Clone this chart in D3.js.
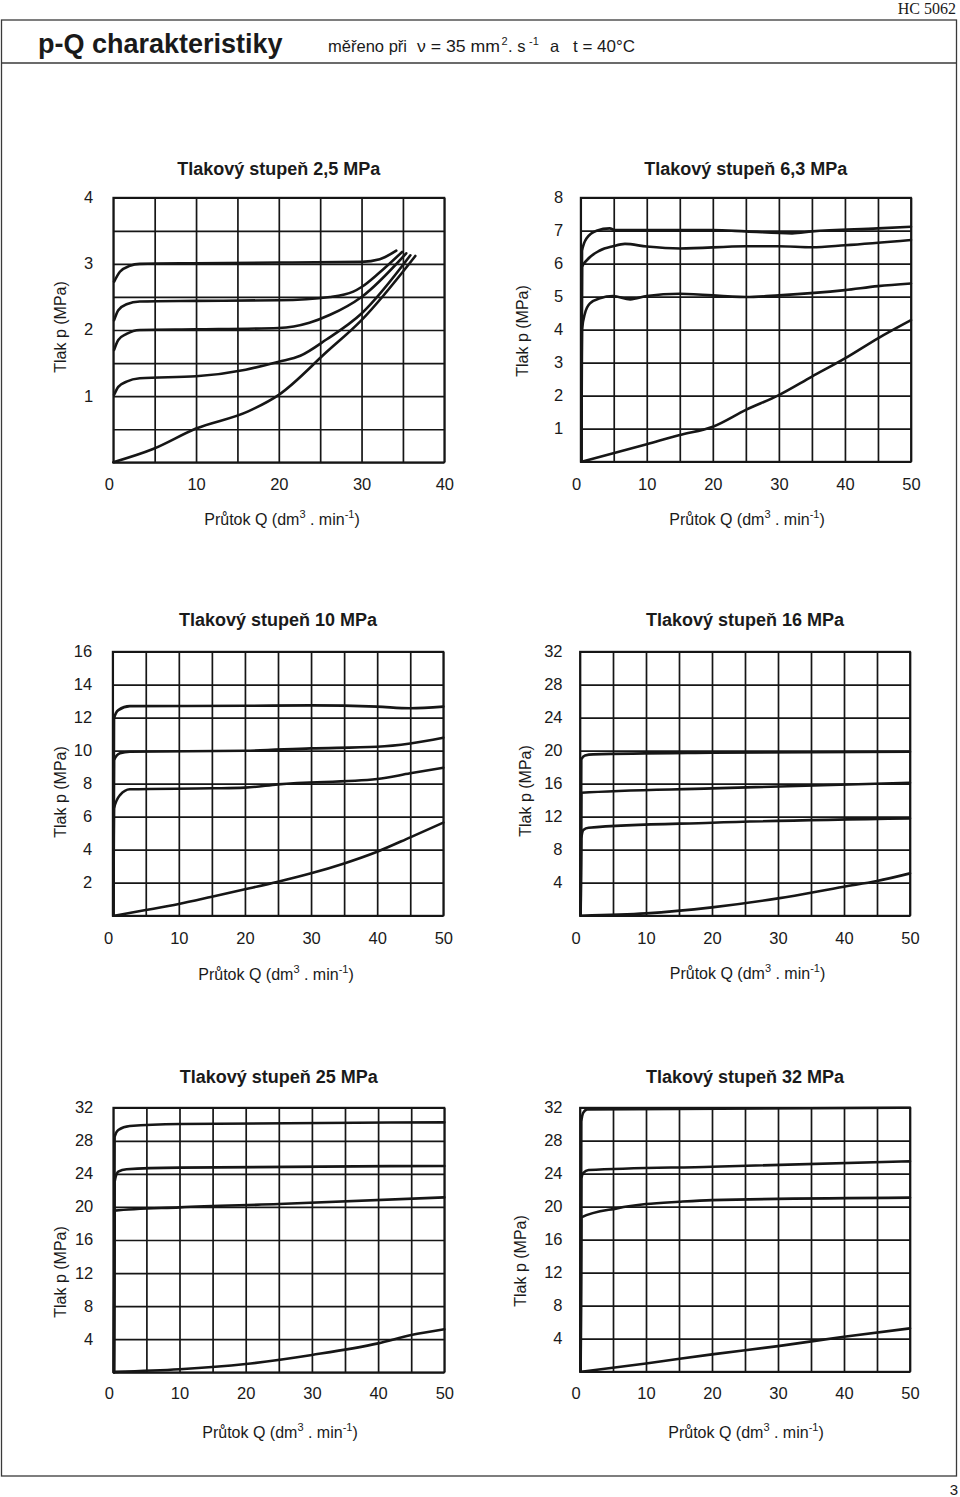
<!DOCTYPE html>
<html>
<head>
<meta charset="utf-8">
<script src="https://cdn.jsdelivr.net/npm/d3@7"></script>
<style>
html,body{margin:0;padding:0;background:#fff;}
svg{display:block;}
text{font-family:"Liberation Sans",Arial,sans-serif;fill:#1a1a1a;}
</style>
</head>
<body>
<svg id="chart" width="960" height="1497"></svg>
<script>
// ---------------- DATA ----------------
const panelTitles = ["Tlakový stupeň 2,5 MPa","Tlakový stupeň 6,3 MPa","Tlakový stupeň 10 MPa",
                     "Tlakový stupeň 16 MPa","Tlakový stupeň 25 MPa","Tlakový stupeň 32 MPa"];
const xMaxes = [40,50,50,50,50,50];
const yMaxes = [4,8,16,32,32,32];
const xGridStep = 5;
const yGridSteps = [0.5,1,2,4,4,4];
const xTickLabels = [[0,10,20,30,40],[0,10,20,30,40,50],[0,10,20,30,40,50],[0,10,20,30,40,50],[0,10,20,30,40,50],[0,10,20,30,40,50]];
const yTickLabels = [[1,2,3,4],[1,2,3,4,5,6,7,8],[2,4,6,8,10,12,14,16],
                     [4,8,12,16,20,24,28,32],[4,8,12,16,20,24,28,32],[4,8,12,16,20,24,28,32]];

// Tlakový stupeň 2,5 MPa  (Q dm3/min, p MPa)
const curves25a = [
  [[0.1,2.73],[0.8,2.88],[2,2.97],[3.2,3.0],[10,3.01],[20,3.02],[30,3.03],[32.2,3.07],[34.2,3.2]],
  [[0.1,2.15],[0.6,2.3],[1.6,2.39],[3.2,2.43],[10,2.44],[20,2.45],[26.2,2.5],[29,2.58],[30,2.65],[32,2.85],[34.9,3.18]],
  [[0.1,1.7],[0.6,1.85],[1.6,1.94],[3.2,2.0],[10,2.01],[20,2.03],[23.7,2.11],[26.2,2.23],[30,2.5],[35.4,3.16]],
  [[0.1,1.02],[0.6,1.14],[1.6,1.22],[3.2,1.27],[10,1.3],[16,1.4],[20,1.52],[22.6,1.61],[25.8,1.86],[30,2.25],[35.9,3.13]],
  [[0,0],[4.8,0.2],[10,0.51],[16.3,0.77],[20,1.02],[25.8,1.67],[30,2.15],[36.5,3.12]]
];
// Tlakový stupeň 6,3 MPa
const curves63 = [
  [[0.1,0],[0.2,6.39],[0.9,6.77],[2.4,7.0],[4.4,7.07],[5.2,7.02],[20,7.02],[25,6.98],[32,6.92],[35,6.98],[45,7.07],[50,7.12]],
  [[0.1,0],[0.2,5.9],[0.9,6.1],[2.9,6.4],[4.9,6.53],[6.7,6.6],[10,6.52],[15,6.46],[25,6.53],[30,6.53],[35,6.5],[40,6.56],[50,6.72]],
  [[0.1,0],[0.2,4.0],[0.65,4.5],[1.4,4.8],[2.9,4.95],[4.9,5.02],[7.5,4.92],[10,5.02],[15,5.09],[25,4.99],[30,5.04],[40,5.2],[45,5.32],[50,5.4]],
  [[0.2,0],[10,0.53],[15,0.81],[20,1.06],[25,1.57],[30,2.02],[35,2.58],[40,3.13],[45,3.74],[50,4.29]]
];
// Tlakový stupeň 10 MPa
const curves10 = [
  [[0.1,0],[0.2,11.96],[0.85,12.46],[2.6,12.7],[20,12.72],[30,12.75],[40,12.67],[45,12.57],[50,12.67]],
  [[0.1,0],[0.2,9.43],[1.1,9.84],[2.6,9.94],[20,10.0],[30,10.14],[40,10.24],[45,10.44],[50,10.79]],
  [[0.1,0],[0.2,6.5],[1.1,7.31],[2.6,7.66],[15,7.72],[20,7.76],[25,7.96],[40,8.28],[45,8.63],[50,8.97]],
  [[0.2,0],[5,0.34],[10,0.71],[15,1.15],[20,1.6],[25,2.06],[30,2.57],[35,3.17],[40,3.88],[45,4.75],[50,5.64]]
];
// Tlakový stupeň 16 MPa
const curves16 = [
  [[0.1,0],[0.2,18.95],[0.76,19.43],[2,19.56],[20,19.76],[50,19.88]],
  [[0.1,0],[0.2,14.9],[20,15.43],[50,16.12]],
  [[0.1,0],[0.2,9.37],[0.5,10.38],[1.3,10.67],[20,11.27],[50,11.8]],
  [[0.2,0],[10,0.28],[20,1.01],[30,2.1],[40,3.52],[45,4.2],[50,5.13]]
];
// Tlakový stupeň 25 MPa
const curves25 = [
  [[0.1,0],[0.2,28.5],[0.75,29.3],[2.5,29.79],[10,30.03],[50,30.23]],
  [[0.1,0],[0.2,23.05],[0.75,24.26],[2,24.55],[10,24.75],[50,24.95]],
  [[0.1,0],[0.2,19.55],[10,19.95],[25,20.35],[50,21.16]],
  [[0.2,0.05],[10,0.36],[20,1.0],[30,2.1],[40,3.5],[45,4.5],[50,5.2]]
];
// Tlakový stupeň 32 MPa
const curves32 = [
  [[0.1,0],[0.2,30.3],[0.5,31.4],[1.1,31.8],[50,32.0]],
  [[0.1,0],[0.2,23.4],[0.5,24.1],[1.3,24.44],[20,24.85],[50,25.5]],
  [[0.1,0],[0.2,18.7],[5.6,19.8],[10,20.32],[15,20.6],[20,20.8],[50,21.1]],
  [[0.2,0],[10,1.0],[20,2.1],[30,3.1],[40,4.24],[50,5.25]]
];
const allCurves = [curves25a, curves63, curves10, curves16, curves25, curves32];

// ---------------- LAYOUT ----------------
const boxes = [
  {L:113.3,R:444.3,T:197.7,B:462.3, yt:[66,327], xt:[282,525], tb:175, yl:20, xl:28},
  {L:580.7,R:911,  T:197.7,B:461.7, yt:[527.5,331], xt:[747,525], tb:175, yl:17.5, xl:28},
  {L:112.7,R:443.3,T:651.7,B:915.7, yt:[66,792], xt:[276,980], tb:626, yl:20.5, xl:28},
  {L:580,  R:910,  T:651.7,B:915.7, yt:[531,791], xt:[747.5,979], tb:626, yl:17.5, xl:28},
  {L:113.3,R:444.3,T:1107.7,B:1372.3, yt:[66,1272], xt:[280,1437.5], tb:1083, yl:20, xl:27},
  {L:580,  R:910,  T:1107.7,B:1371.7, yt:[526,1261], xt:[746,1437.5], tb:1083, yl:17.5, xl:27.5}
];
const INK = "#161616";

const svg = d3.select("#chart");
svg.append("rect").attr("width",960).attr("height",1497).attr("fill","#fff");

// page frame & header
const frame = svg.append("g").attr("stroke","#3a3a3a").attr("stroke-width",1.3).attr("fill","none");
frame.append("rect").attr("x",1.5).attr("y",20).attr("width",955).attr("height",1456);
frame.append("line").attr("x1",1.5).attr("x2",956.5).attr("y1",63).attr("y2",63);

svg.append("text").attr("x",956).attr("y",14).attr("text-anchor","end")
  .style("font-family","'Liberation Serif','Times New Roman',serif").style("font-size","16px").text("HC 5062");
svg.append("text").attr("x",38).attr("y",53).style("font-size","27px").style("font-weight","bold").text("p-Q charakteristiky");

const sub = [
  {x:328,t:"měřeno při",sup:false,len:79},
  {x:417,t:"ν = 35 mm",sup:false,len:83},
  {x:501.5,t:"2",sup:true},
  {x:508,t:". s",sup:false},
  {x:529,t:"-1",sup:true},
  {x:550,t:"a",sup:false},
  {x:573,t:"t = 40°C",sup:false,len:62}
];
sub.forEach(s=>{
  const t = svg.append("text").attr("x",s.x).attr("y",s.sup?45:52)
    .style("font-size",s.sup?"11px":"16.5px").text(s.t);
  if (s.len) t.attr("textLength",s.len).attr("lengthAdjust","spacingAndGlyphs");
});
svg.append("text").attr("x",958).attr("y",1495).attr("text-anchor","end").style("font-size","15px").text("3");

// ---------------- PANELS ----------------
boxes.forEach((b,i)=>{
  const x = d3.scaleLinear().domain([0,xMaxes[i]]).range([b.L,b.R]);
  const y = d3.scaleLinear().domain([0,yMaxes[i]]).range([b.B,b.T]);
  const g = svg.append("g");

  // grid
  const gx = g.append("g").attr("transform",`translate(0,${b.B})`)
    .call(d3.axisBottom(x).tickValues(d3.range(0,xMaxes[i]+1e-6,xGridStep)).tickSize(-(b.B-b.T)).tickFormat(""));
  const gy = g.append("g").attr("transform",`translate(${b.L},0)`)
    .call(d3.axisLeft(y).tickValues(d3.range(0,yMaxes[i]+1e-6,yGridSteps[i])).tickSize(-(b.R-b.L)).tickFormat(""));
  [gx,gy].forEach(a=>{
    a.select(".domain").remove();
    a.selectAll("line").attr("stroke",INK).attr("stroke-width",1.7);
  });
  g.append("rect").attr("x",b.L).attr("y",b.T).attr("width",b.R-b.L).attr("height",b.B-b.T)
    .attr("fill","none").attr("stroke",INK).attr("stroke-width",1.8);

  // tick labels
  const lx = g.append("g").attr("transform",`translate(0,${b.B})`)
    .call(d3.axisBottom(x).tickValues(xTickLabels[i]).tickSize(0).tickFormat(d3.format("d")));
  lx.select(".domain").remove();
  lx.selectAll("text").attr("y",b.xl).attr("dy",null).attr("dx",d=>d===0?-4.5:0)
    .style("font-size","16.5px").attr("fill","#1a1a1a").style("font-family","'Liberation Sans',Arial,sans-serif");

  const ly = g.append("g").attr("transform",`translate(${b.L},0)`)
    .call(d3.axisLeft(y).tickValues(yTickLabels[i]).tickSize(0).tickPadding(b.yl).tickFormat(d3.format("d")));
  ly.select(".domain").remove();
  ly.selectAll("text").attr("dy","0.3em")
    .style("font-size","16.5px").attr("fill","#1a1a1a").style("font-family","'Liberation Sans',Arial,sans-serif");

  // curves
  const line = d3.line().x(d=>x(d[0])).y(d=>y(d[1])).curve(d3.curveMonotoneX);
  g.selectAll("path.curve").data(allCurves[i]).join("path").attr("class","curve")
    .attr("d",line).attr("fill","none").attr("stroke",INK).attr("stroke-width",2.6)
    .attr("stroke-linejoin","round").attr("stroke-linecap","round");

  // title
  g.append("text").attr("x",(b.L+b.R)/2).attr("y",b.tb).attr("text-anchor","middle")
    .style("font-size","18px").style("font-weight","bold").text(panelTitles[i]);

  // y axis title
  g.append("text").attr("transform",`translate(${b.yt[0]},${b.yt[1]}) rotate(-90)`)
    .attr("text-anchor","middle").style("font-size","16px").text("Tlak p (MPa)");

  // x axis title
  const xt = g.append("text").attr("x",b.xt[0]).attr("y",b.xt[1]).attr("text-anchor","middle").style("font-size","16px");
  xt.append("tspan").text("Průtok Q (dm");
  xt.append("tspan").attr("dy",-7).style("font-size","11px").text("3");
  xt.append("tspan").attr("dy",7).text(" . min");
  xt.append("tspan").attr("dy",-7).style("font-size","11px").text("-1");
  xt.append("tspan").attr("dy",7).text(")");
});
</script>
</body>
</html>
